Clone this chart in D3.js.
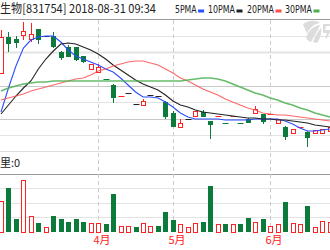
<!DOCTYPE html>
<html>
<head>
<meta charset="utf-8">
<script src="https://cdn.jsdelivr.net/npm/d3@7"></script>
<style>
  body { margin: 0; background: #fff; }
  svg { display: block; }
</style>
</head>
<body>
<div id="chart"></div>
<script>
// header + legend
const title = "生物[831754] 2018-08-31 09:34";
const maNames = ["5PMA", "10PMA", "20PMA", "30PMA"];

// daily candles (only the visible part of the window)
const openP  = [7.46,7.82,7.80,7.84,7.80,7.90,7.83,7.83,7.67,7.72,7.72,7.63,7.50,7.47,7.40,7.34,7.22,7.26,7.15,7.14,7.24,7.23,7.17,7.06,6.92,7.00,7.03,7.07,6.98,7.02,6.96,7.02,6.96,7.00,7.06,7.05,7.04,6.96,6.92,6.86,6.91,6.87,6.86,6.86,6.88];
const closeP = [7.82,7.75,7.76,7.88,7.85,7.79,7.83,7.72,7.61,7.62,7.59,7.57,7.55,7.52,7.39,7.21,7.23,7.26,7.15,7.18,7.24,7.23,7.02,6.92,6.96,7.00,7.08,7.02,6.94,7.03,6.95,7.03,6.95,6.96,7.10,6.97,7.05,7.00,6.82,6.90,6.92,6.81,6.89,6.90,6.92];
const highP  = [7.89,7.87,7.83,7.97,7.96,7.90,7.83,7.87,7.68,7.74,7.72,7.63,7.55,7.55,7.40,7.35,7.23,7.26,7.15,7.20,7.24,7.23,7.18,7.08,7.00,7.00,7.08,7.09,6.98,7.03,6.96,7.03,6.96,7.01,7.13,7.05,7.05,7.00,6.93,6.90,6.92,6.88,6.89,6.90,6.92];
const lowP   = [7.46,7.67,7.71,7.79,7.77,7.75,7.83,7.71,7.59,7.62,7.58,7.56,7.50,7.47,7.39,7.16,7.22,7.26,7.15,7.14,7.24,7.23,7.00,6.92,6.92,7.00,7.03,7.02,6.80,7.02,6.95,7.02,6.95,6.96,7.06,6.95,7.04,6.96,6.79,6.86,6.91,6.72,6.86,6.86,6.88];
const volume = [21,30,9,36,11,6.3,3.5,11,8.8,6.9,8.8,6.9,6.3,5.8,5.1,26,4.2,4,3.5,6.3,4,4,13.9,8.1,5.3,3.5,6.3,6.9,31.7,5.1,5.1,5.1,5.1,9.3,6.9,8.8,4.2,5.1,20.8,5.8,5.3,17.8,3.5,7.4,6.9];

// moving averages as drawn
const ma5  = [7.07,7.31,7.53,7.71,7.79,7.82,7.83,7.83,7.77,7.69,7.63,7.60,7.57,7.54,7.50,7.47,7.41,7.34,7.27,7.22,7.22,7.21,7.17,7.12,7.06,7.02,7.00,7.00,7.00,7.00,6.99,6.99,6.99,6.99,7.00,7.00,7.00,7.00,6.98,6.95,6.91,6.88,6.88,6.89,6.90];
const ma10 = [7.05,7.14,7.23,7.31,7.38,7.50,7.60,7.68,7.75,7.76,7.75,7.72,7.69,7.65,7.60,7.54,7.49,7.44,7.39,7.35,7.32,7.29,7.24,7.18,7.14,7.12,7.09,7.07,7.06,7.05,7.04,7.03,7.02,7.01,7.01,7.00,7.00,6.99,6.99,6.98,6.97,6.96,6.94,6.93,6.92];
const ma20 = [7.19,7.21,7.23,7.25,7.28,7.30,7.32,7.34,7.36,7.38,7.40,7.41,7.44,7.48,7.50,7.53,7.55,7.57,7.58,7.58,7.56,7.54,7.50,7.46,7.41,7.38,7.34,7.30,7.27,7.24,7.20,7.17,7.14,7.11,7.09,7.06,7.05,7.04,7.04,7.03,7.02,7.01,7.00,6.99,6.98];
const ma30 = [7.28,7.31,7.33,7.35,7.36,7.37,7.37,7.38,7.38,7.38,7.38,7.38,7.38,7.38,7.38,7.38,7.38,7.38,7.38,7.38,7.38,7.38,7.38,7.38,7.38,7.39,7.40,7.41,7.41,7.40,7.38,7.35,7.32,7.29,7.26,7.24,7.21,7.19,7.16,7.14,7.11,7.09,7.06,7.04,7.02];

// first trading bar of each month
const monthIndex = [13, 23, 36];
const monthLabels = ["4月", "5月", "6月"];

const width = 330, height = 250;
const red = "#f22", green = "#0b7a3b";
const maColors = ["#2d4dff", "#222", "#ff4d4d", "#4caf50"];
const cjk = "'Noto Sans CJK SC', sans-serif";

const svg = d3.select("#chart").append("svg")
  .attr("width", width).attr("height", height);

const x = d3.scaleLinear().domain([0, openP.length - 1]).range([1, 329.9]);
const y = d3.scaleLinear().domain([6.67, 8.00]).range([152, 19]);
const yv = d3.scaleLinear().domain([0, 40]).range([231.7, 174]);

const px = v => Math.round(v) + 0.5;
const idx = d3.range(openP.length);

// price grid
const priceGrid = d3.range(1, 8).filter(k => k !== 5);
svg.append("g").selectAll("line").data(priceGrid).join("line")
  .attr("x1", 0).attr("x2", width)
  .attr("y1", k => px(y(6.67 + k * 0.16625)))
  .attr("y2", k => px(y(6.67 + k * 0.16625)))
  .attr("stroke", k => (k === 2 || k === 4) ? "#c8c8c8" : "#e3e3e3")
  .attr("stroke-width", k => k === 6 ? 2 : 1);

// volume grid
svg.append("g").selectAll("line").data([10, 20, 30]).join("line")
  .attr("x1", 0).attr("x2", width)
  .attr("y1", d => px(yv(d))).attr("y2", d => px(yv(d)))
  .attr("stroke", "#e3e3e3");

// panel borders
[[19, "#999"], [151, "#ddd"], [174, "#999"]].forEach(([yy, c]) => {
  svg.append("line").attr("x1", 0).attr("x2", width)
    .attr("y1", yy + 0.5).attr("y2", yy + 0.5).attr("stroke", c);
});

// month separators
svg.append("g").selectAll("line").data(monthIndex).join("line")
  .attr("x1", i => px(x(i))).attr("x2", i => px(x(i)))
  .attr("y1", 20).attr("y2", 232)
  .attr("stroke", "#ccc").attr("stroke-dasharray", "4,3");

// watermark (logo shape only)
const wm = svg.append("g").attr("fill", "#dcdcdc");
wm.append("path").attr("d", "M303,24 C309,20 317,20 320,23 C314,24 309,28 307,34 C306,31 304,27 303,24Z");
wm.append("path").attr("d", "M306,38 C308,31 313,26 320,25 C318,30 314,36 311,42 C309,41 307,40 306,38Z");
wm.append("path").attr("d", "M313,42 C315,36 318,31 321,28 C322,33 320,39 317,43Z");
wm.append("path").attr("d", "M323,24 L330,24 L330,26 L326,26 L325,30 L330,30 L330,32 L327,38 L325,38 L327,33 L323,33Z");

// volume bars
const upBar = i => closeP[i] > openP[i] ||
  (closeP[i] === openP[i] && (i === 0 || closeP[i] >= closeP[i - 1]));
svg.append("g").selectAll("rect").data(idx).join("rect")
  .attr("x", i => upBar(i) ? px(x(i)) - 2 : px(x(i)) - 2.5)
  .attr("width", i => upBar(i) ? 4 : 5)
  .attr("y", i => upBar(i) ? Math.round(yv(volume[i])) + 0.5 : Math.round(yv(volume[i])))
  .attr("height", i => Math.round(yv(0)) - Math.round(yv(volume[i])))
  .attr("fill", i => upBar(i) ? "#fff" : green)
  .attr("stroke", i => upBar(i) ? red : "none");

// candles
const candle = svg.append("g").selectAll("g").data(idx).join("g");
const cColor = i => closeP[i] > openP[i] ? red : closeP[i] < openP[i] ? green : "#222";

candle.append("line")
  .attr("x1", i => px(x(i))).attr("x2", i => px(x(i)))
  .attr("y1", i => Math.round(y(highP[i]))).attr("y2", i => Math.round(y(lowP[i])))
  .attr("stroke", cColor);

candle.each(function (i) {
  const g = d3.select(this);
  const cx = px(x(i));
  const top = Math.round(y(Math.max(openP[i], closeP[i])));
  const bot = Math.round(y(Math.min(openP[i], closeP[i])));
  if (bot - top <= 1) {
    g.append("line").attr("x1", cx - 3).attr("x2", cx + 3)
      .attr("y1", top + 0.5).attr("y2", top + 0.5).attr("stroke", cColor(i));
  } else if (closeP[i] > openP[i]) {
    g.append("rect").attr("x", cx - 2).attr("width", 4)
      .attr("y", top + 0.5).attr("height", bot - top)
      .attr("fill", "#fff").attr("stroke", red);
  } else {
    g.append("rect").attr("x", cx - 2.5).attr("width", 5)
      .attr("y", top).attr("height", bot - top).attr("fill", green);
  }
});

// moving averages
const maSeries = [ma5, ma10, ma20, ma30];
maSeries.forEach((s, k) => {
  svg.append("path").datum(idx)
    .attr("fill", "none")
    .attr("stroke", maColors[k])
    .attr("stroke-width", k === 3 ? 1.6 : 1.1)
    .attr("stroke-opacity", k >= 2 ? 0.85 : 1)
    .attr("d", d3.line().x(i => x(i)).y(i => y(s[i])));
});

// header
svg.append("text").attr("x", 0).attr("y", 13)
  .attr("font-family", cjk).attr("font-size", 12).attr("fill", "#222")
  .attr("textLength", 156).attr("lengthAdjust", "spacingAndGlyphs")
  .text(title);

const legendX = [175, 208, 247, 285];
maNames.forEach((name, k) => {
  const w = name.length * 5.4;
  svg.append("text").attr("x", legendX[k]).attr("y", 13)
    .attr("font-family", "'DejaVu Sans', sans-serif").attr("font-size", 10.5).attr("fill", "#222")
    .attr("textLength", w).attr("lengthAdjust", "spacingAndGlyphs")
    .text(name);
  svg.append("rect").attr("x", legendX[k] + w + 1.5).attr("y", 9.5)
    .attr("width", 6).attr("height", 3).attr("fill", maColors[k]);
});

// volume label
svg.append("text").attr("x", 0).attr("y", 167)
  .attr("font-family", cjk).attr("font-size", 11).attr("fill", "#222")
  .text("里:0");

// month labels
svg.append("g").selectAll("text").data(monthIndex).join("text")
  .attr("x", i => px(x(i)) - 5).attr("y", 244)
  .attr("font-family", cjk).attr("font-size", 11).attr("fill", red)
  .text((i, k) => monthLabels[k]);
</script>
</body>
</html>
